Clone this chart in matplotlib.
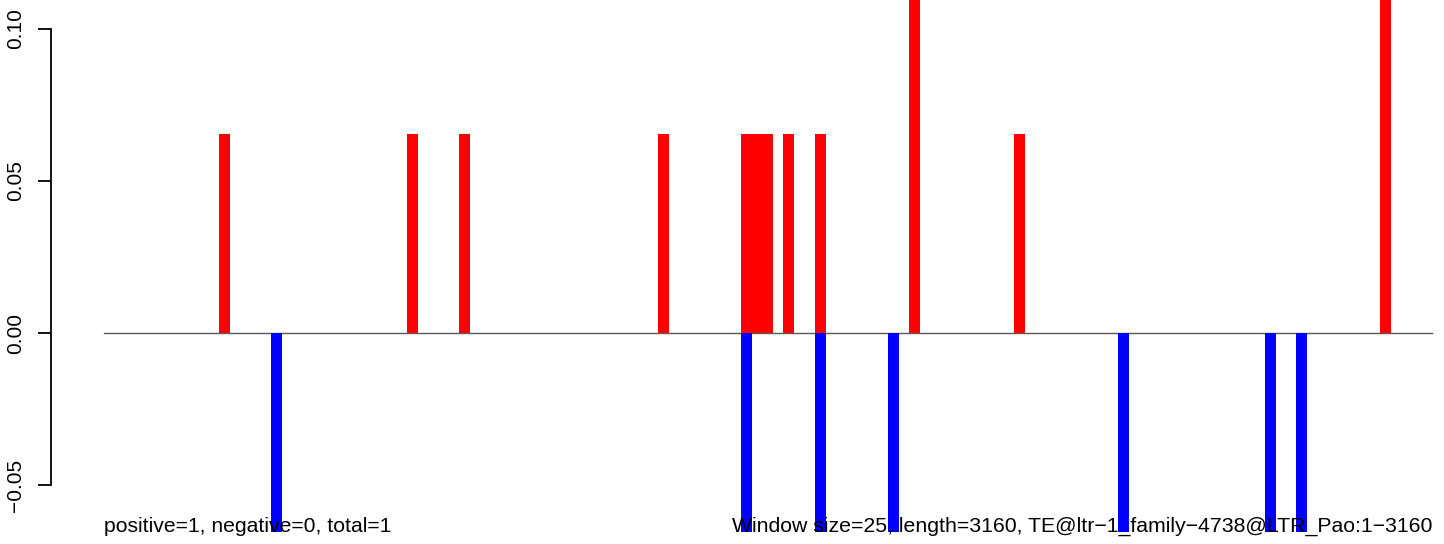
import matplotlib
matplotlib.use("Agg")
import matplotlib.pyplot as plt

plt.rcParams['font.family'] = ['Liberation Sans', 'DejaVu Sans']

# Data (x in bp, window starts; y values)
pos_x = [288, 735, 859, 1332, 1530, 1555, 1580, 1629, 1705, 1929, 2179, 3049]
pos_y = [0.0655, 0.0655, 0.0655, 0.0655, 0.0655, 0.0655, 0.0655, 0.0655,
         0.0655, 0.131, 0.0655, 0.131]
neg_x = [411, 1530, 1705, 1879, 2426, 2776, 2850]
neg_y = [-0.0655, -0.0655, -0.0655, -0.0655, -0.0655, -0.0655, -0.0655]
seq_start, seq_end = 1, 3160
yticks = [-0.05, 0.00, 0.05, 0.10]
ytick_labels = ['\u22120.05', '0.00', '0.05', '0.10']
left_label = "positive=1, negative=0, total=1"
right_label = "Window size=25, length=3160, TE@ltr\u22121_family\u22124738@LTR_Pao:1\u22123160"

W, H, DPI = 1444, 544, 100
fig = plt.figure(figsize=(W / DPI, H / DPI), dpi=DPI)
ax = fig.add_axes([0, 0, 1, 1])

# scale: bp 1 -> px 104, bp 3160 -> px 1432
k = (1432 - 104) / (seq_end - seq_start)
ax.set_xlim(seq_start - 104 / k, seq_end + (W - 1432) / k)
# y: 0 at px 333, 0.05 per 152 px
s = 0.05 / 152
ax.set_ylim(-(H - 333) * s, 333 * s)

bw = 11 / k
ax.plot([seq_start, seq_end], [0, 0], color='#5a5a5a', lw=1.0, zorder=1)
ax.bar(pos_x, pos_y, width=bw, color='#FF0000', linewidth=0, zorder=2)
ax.bar(neg_x, neg_y, width=bw, color='#0000FF', linewidth=0, zorder=2)

for sp in ['top', 'right', 'bottom']:
    ax.spines[sp].set_visible(False)
ax.spines['left'].set_position(('axes', 50.7 / W))
ax.spines['left'].set_bounds(-0.05, 0.10)
ax.spines['left'].set_linewidth(1.3)
ax.set_xticks([])
ax.set_yticks(yticks)
ax.set_yticklabels(ytick_labels, rotation=90, va='center', fontsize=15)
ax.tick_params(axis='y', direction='out', length=9.4, width=1.3, pad=9)
ax.patch.set_visible(False)

fig.text(104 / W, (H - 532) / H, left_label, ha='left', va='baseline', fontsize=15.2)
fig.text(1432 / W, (H - 532) / H, right_label, ha='right', va='baseline', fontsize=15.3)

fig.savefig('out.png', dpi=DPI)
